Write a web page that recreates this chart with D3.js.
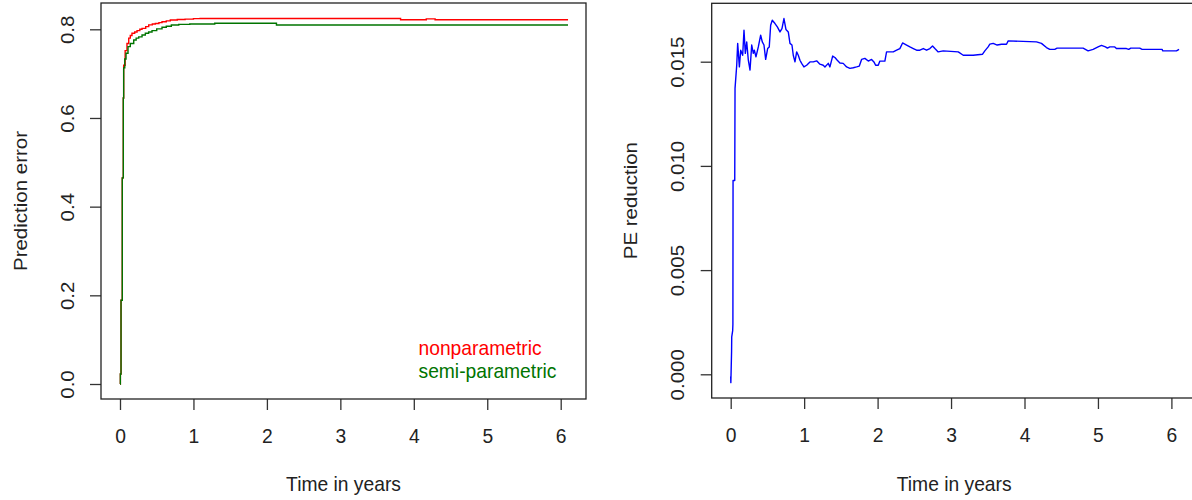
<!DOCTYPE html>
<html>
<head>
<meta charset="utf-8">
<script src="https://cdn.jsdelivr.net/npm/d3@7/dist/d3.min.js"></script>
<style>
  html, body { margin: 0; padding: 0; background: #fff; }
  svg { display: block; }
  text { font-family: "Liberation Sans", Arial, sans-serif; fill: #222; }
</style>
</head>
<body>
<svg id="chart" width="1192" height="500"></svg>
<script>
// Prediction error curves over follow-up time (step functions)
const npTime  = [0, 0.005, 0.014, 0.031, 0.045, 0.05, 0.07, 0.095, 0.119, 0.14, 0.163, 0.2, 0.232, 0.27, 0.30, 0.35, 0.391, 0.44, 0.481, 0.53, 0.572, 0.63, 0.685, 0.78, 0.886, 1.0, 1.09, 3.82, 4.17, 4.29, 6.1];
const npValue = [0, 0.0226, 0.189, 0.465, 0.645, 0.719, 0.752, 0.768, 0.780, 0.786, 0.791, 0.794, 0.797, 0.800, 0.802, 0.806, 0.810, 0.812, 0.813, 0.815, 0.817, 0.819, 0.821, 0.822, 0.823, 0.824, 0.8245, 0.8215, 0.8235, 0.8215, 0.8215];

const spTime  = [0, 0.005, 0.014, 0.031, 0.045, 0.05, 0.065, 0.082, 0.109, 0.14, 0.187, 0.22, 0.255, 0.30, 0.345, 0.39, 0.436, 0.5, 0.572, 0.63, 0.699, 0.8, 0.95, 1.29, 2.13, 6.1];
const spValue = [0, 0.0226, 0.189, 0.465, 0.645, 0.713, 0.733, 0.746, 0.761, 0.768, 0.776, 0.780, 0.783, 0.787, 0.791, 0.794, 0.797, 0.801, 0.8045, 0.807, 0.8097, 0.811, 0.812, 0.8135, 0.8097, 0.8097];

// Reduction in prediction error (nonparametric minus semi-parametric)
const peTime = [0, 0.002, 0.012, 0.014, 0.027, 0.030, 0.032, 0.055, 0.059, 0.082, 0.095, 0.118, 0.136, 0.163, 0.181, 0.199, 0.218, 0.240, 0.263, 0.286, 0.308, 0.322, 0.344, 0.376, 0.408, 0.430, 0.453, 0.476, 0.503, 0.525, 0.544, 0.566, 0.603, 0.635, 0.671, 0.698, 0.725, 0.752, 0.784, 0.807, 0.834, 0.852, 0.875, 0.898, 0.920, 0.943, 0.966, 0.997, 1.034, 1.079, 1.124, 1.170, 1.215, 1.260, 1.283, 1.328, 1.351, 1.388, 1.419, 1.451, 1.487, 1.532, 1.578, 1.623, 1.669, 1.714, 1.751, 1.782, 1.827, 1.873, 1.918, 1.950, 1.973, 2.009, 2.031, 2.099, 2.122, 2.213, 2.259, 2.303, 2.340, 2.395, 2.440, 2.486, 2.531, 2.576, 2.622, 2.667, 2.712, 2.748, 2.780, 2.825, 2.893, 3.098, 3.166, 3.301, 3.429, 3.460, 3.505, 3.528, 3.574, 3.628, 3.687, 3.755, 3.778, 4.163, 4.231, 4.299, 4.344, 4.412, 4.444, 4.798, 4.866, 4.934, 5.002, 5.048, 5.102, 5.129, 5.161, 5.229, 5.252, 5.388, 5.419, 5.447, 5.569, 5.601, 5.873, 5.883, 6.069, 6.104];
const peReduction = [-0.0001, -0.0004, 0.0011, 0.0018, 0.0021, 0.0024, 0.0093, 0.0093, 0.01372, 0.01483, 0.01588, 0.01475, 0.01555, 0.01531, 0.01651, 0.0154, 0.01595, 0.01507, 0.0146, 0.0158, 0.0154, 0.01555, 0.01523, 0.01571, 0.01627, 0.01595, 0.0158, 0.01511, 0.01563, 0.01571, 0.01675, 0.01699, 0.01683, 0.01667, 0.01643, 0.01659, 0.01707, 0.01655, 0.01643, 0.01588, 0.0158, 0.01531, 0.01499, 0.01547, 0.01531, 0.01507, 0.01492, 0.01475, 0.01483, 0.01499, 0.01499, 0.01504, 0.01488, 0.01483, 0.01475, 0.01492, 0.01475, 0.01527, 0.0152, 0.01507, 0.01494, 0.01492, 0.01475, 0.01468, 0.01471, 0.01475, 0.01479, 0.01511, 0.01516, 0.01503, 0.01511, 0.01499, 0.01483, 0.01483, 0.01503, 0.01503, 0.01547, 0.01547, 0.01555, 0.01563, 0.0159, 0.0158, 0.01571, 0.01563, 0.01555, 0.01555, 0.01563, 0.01555, 0.01563, 0.01575, 0.01563, 0.01547, 0.01552, 0.01547, 0.01531, 0.01531, 0.01536, 0.01552, 0.01571, 0.01584, 0.01588, 0.0158, 0.01584, 0.01584, 0.016, 0.01595, 0.01588, 0.01568, 0.01559, 0.01559, 0.01565, 0.01565, 0.01552, 0.01559, 0.01571, 0.01578, 0.01571, 0.01565, 0.01571, 0.01571, 0.01563, 0.01563, 0.01559, 0.01565, 0.01565, 0.01559, 0.01559, 0.01552, 0.01552, 0.01559];

const xTicks = [0, 1, 2, 3, 4, 5, 6];
const peTicks = [0.0, 0.2, 0.4, 0.6, 0.8];
const redTicks = [0.000, 0.005, 0.010, 0.015];
const legendLabels = ["nonparametric", "semi-parametric"];
const seriesColors = ["#ff0000", "#007400"];

const svg = d3.select("#chart");
const FONT = 20.5;
const SQX = 0.94; // horizontal glyph compression

function zip(ts, vs) { return ts.map((t, i) => ({ t, v: vs[i] })); }

function panel(cfg) {
  const g = svg.append("g");
  const x = d3.scaleLinear().domain([0, 6]).range([cfg.left + 19, cfg.left + 459.7]);
  const y = d3.scaleLinear().domain(cfg.yDom).range(cfg.yRange);

  // tick marks
  const xa = g.append("g").attr("transform", `translate(0,${cfg.bottom})`)
    .call(d3.axisBottom(x).tickValues(xTicks).tickFormat(d3.format("d")).tickSize(11).tickSizeOuter(0));
  const ya = g.append("g").attr("transform", `translate(${cfg.left},0)`)
    .call(d3.axisLeft(y).tickValues(cfg.yTicks).tickFormat(d3.format(cfg.yFmt)).tickSize(11).tickSizeOuter(0));
  [xa, ya].forEach(a => {
    a.select(".domain").remove();
    a.selectAll("line").attr("stroke", "#333").attr("stroke-width", 1.3);
    a.attr("font-family", null).attr("font-size", null);
  });
  xa.selectAll("text").attr("y", null).attr("dy", null)
    .attr("transform", `translate(0,44) scale(${SQX},1)`)
    .style("font-size", FONT + "px").attr("fill", "#222");
  ya.selectAll("text").attr("x", null).attr("dy", null)
    .attr("text-anchor", "middle")
    .attr("transform", `translate(-27.5,0) scale(${SQX},1) rotate(-90)`)
    .style("font-size", FONT + "px").attr("fill", "#222");

  // plot box
  g.append("rect").attr("x", cfg.left).attr("y", cfg.top)
    .attr("width", 485).attr("height", cfg.bottom - cfg.top)
    .attr("fill", "none").attr("stroke", "#222").attr("stroke-width", 1.3);

  // axis titles
  g.append("text").attr("text-anchor", "middle")
    .attr("transform", `translate(${cfg.left + 242.5},491) scale(${SQX},1)`)
    .style("font-size", FONT + "px").text("Time in years");
  g.append("text").attr("text-anchor", "middle")
    .attr("transform", `translate(${cfg.left - 74.5},${(cfg.top + cfg.bottom) / 2}) scale(${SQX},1) rotate(-90)`)
    .style("font-size", FONT + "px").text(cfg.yTitle);

  return { g, x, y };
}

// Left: prediction error
const L = panel({ left: 101, top: 3, bottom: 399, yDom: [0, 0.8], yRange: [384, 29.3],
  yTicks: peTicks, yFmt: ".1f", yTitle: "Prediction error" });
const stepLine = d3.line().x(d => L.x(d.t)).y(d => L.y(d.v)).curve(d3.curveStepAfter);
[zip(npTime, npValue), zip(spTime, spValue)].forEach((s, i) => {
  L.g.append("path").datum(s).attr("d", stepLine)
    .attr("fill", "none").attr("stroke", seriesColors[i]).attr("stroke-width", 1.4);
});
legendLabels.forEach((lab, i) => {
  L.g.append("text")
    .attr("transform", `translate(418.5,${355 + i * 23.3}) scale(${SQX},1)`)
    .style("font-size", FONT + "px").style("fill", seriesColors[i]).text(lab);
});

// Right: PE reduction
const R = panel({ left: 711.7, top: 3.3, bottom: 398, yDom: [0, 0.015], yRange: [374.3, 61.7],
  yTicks: redTicks, yFmt: ".3f", yTitle: "PE reduction" });
const line = d3.line().x(d => R.x(d.t)).y(d => R.y(d.v));
R.g.append("path").datum(zip(peTime, peReduction)).attr("d", line)
  .attr("fill", "none").attr("stroke", "#0000ff").attr("stroke-width", 1.4)
  .attr("stroke-linejoin", "round");
</script>
</body>
</html>
